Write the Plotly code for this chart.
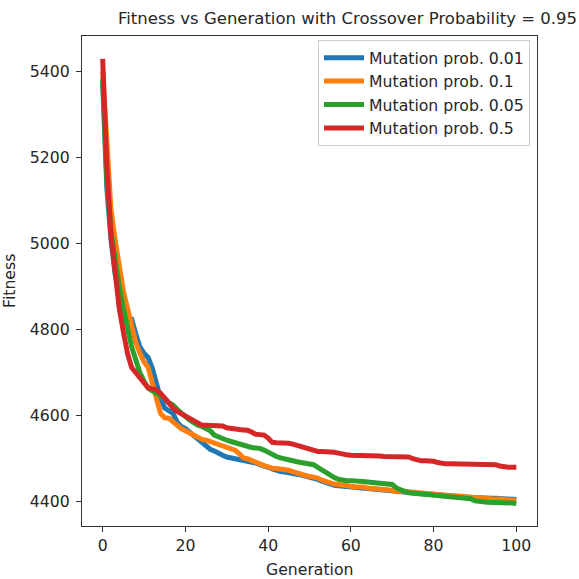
import plotly.graph_objects as go

generations = list(range(0, 101))

mut_001 = [5375, 5130, 5010, 4930, 4880, 4840, 4830, 4825, 4790, 4760,
           4745, 4735, 4710, 4675, 4640, 4618, 4610, 4605, 4585, 4575,
           4570, 4562, 4555, 4545, 4538, 4530, 4522, 4518, 4512, 4508,
           4504, 4502, 4500, 4500, 4497, 4496, 4492, 4490, 4486, 4484,
           4480, 4476, 4472, 4470, 4469, 4468, 4466, 4464, 4462, 4460,
           4457, 4455, 4452, 4448, 4444, 4440, 4438, 4437, 4436, 4436,
           4435, 4434, 4432, 4431, 4431, 4430, 4429, 4428, 4427, 4426,
           4425, 4424, 4423, 4422, 4421, 4420, 4420, 4419, 4418, 4418,
           4417, 4416, 4415, 4414, 4413, 4413, 4412, 4411, 4411, 4410,
           4410, 4409, 4409, 4408, 4408, 4408, 4407, 4407, 4406, 4406,
           4405]

mut_01 = [5400, 5220, 5080, 5010, 4950, 4890, 4850, 4810, 4770, 4745,
          4725, 4712, 4680, 4640, 4605, 4595, 4594, 4585, 4575, 4570,
          4565, 4560, 4552, 4548, 4545, 4543, 4540, 4538, 4535, 4532,
          4528, 4525, 4520, 4512, 4502, 4500, 4497, 4492, 4488, 4484,
          4480, 4478, 4477, 4476, 4474, 4473, 4470, 4466, 4463, 4461,
          4459, 4458, 4455, 4450, 4446, 4443, 4441, 4440, 4438, 4437,
          4436, 4435, 4435, 4434, 4432, 4431, 4430, 4429, 4428, 4427,
          4427, 4426, 4425, 4424, 4423, 4422, 4421, 4420, 4419, 4418,
          4418, 4417, 4416, 4415, 4414, 4413, 4413, 4412, 4411, 4410,
          4410, 4409, 4408, 4408, 4407, 4406, 4406, 4405, 4404, 4404,
          4403]

mut_005 = [5385, 5150, 5030, 4960, 4900, 4850, 4800, 4760, 4730, 4700,
           4680, 4664, 4658, 4653, 4648, 4640, 4630, 4625, 4615, 4605,
           4598, 4590, 4583, 4578, 4575, 4571, 4565, 4555, 4550, 4547,
           4543, 4540, 4537, 4533, 4530, 4528, 4526, 4525, 4524, 4520,
           4514, 4508, 4505, 4502, 4499, 4497, 4495, 4493, 4491, 4490,
           4489, 4486, 4480, 4474, 4467, 4460, 4456, 4452, 4450, 4449,
           4449, 4449, 4448, 4447, 4446, 4445, 4445, 4444, 4443, 4443,
           4440, 4432, 4427, 4424, 4421, 4420, 4419, 4418, 4417, 4416,
           4415, 4414, 4413, 4412, 4411, 4410, 4410, 4409, 4408, 4407,
           4402, 4400, 4400, 4399, 4399, 4399, 4398, 4398, 4397, 4397,
           4396]

mut_05 = [5430, 5180, 5020, 4920, 4850, 4795, 4745, 4712, 4700, 4690,
          4675, 4665, 4662, 4660, 4652, 4640, 4630, 4618, 4610, 4605,
          4598, 4592, 4588, 4582, 4578, 4578, 4577, 4577, 4576, 4576,
          4572, 4570, 4569, 4568, 4567, 4566, 4562, 4557, 4556, 4555,
          4548, 4538, 4537, 4537, 4536, 4536, 4534, 4531, 4527, 4523,
          4520, 4518, 4517, 4517, 4517, 4516, 4515, 4513, 4510, 4509,
          4508, 4508, 4507, 4507, 4506, 4506, 4506, 4506, 4505, 4505,
          4505, 4505, 4505, 4505, 4504, 4500, 4496, 4495, 4495, 4495,
          4494, 4491, 4489, 4488, 4488, 4488, 4488, 4487, 4487, 4487,
          4487, 4487, 4487, 4487, 4487, 4486, 4483, 4481, 4480, 4480,
          4480]

series_names = ["Mutation prob. 0.01", "Mutation prob. 0.1",
                "Mutation prob. 0.05", "Mutation prob. 0.5"]
series_values = [mut_001, mut_01, mut_005, mut_05]
series_colors = ["#1f77b4", "#ff7f0e", "#2ca02c", "#d62728"]

x_ticks = [0, 20, 40, 60, 80, 100]
y_ticks = [4400, 4600, 4800, 5000, 5200, 5400]

FONT = "DejaVu Sans"
TXT = "#262626"
FS = 15.7

fig = go.Figure()
for name, vals, col in zip(series_names, series_values, series_colors):
    fig.add_trace(go.Scatter(x=generations, y=vals, mode="lines", name=name,
                             line=dict(color=col, width=5)))

axis_common = dict(showgrid=False, zeroline=False, showline=True, mirror=True,
                   linecolor="#333333", linewidth=1.2, ticks="outside",
                   ticklen=5, tickwidth=1.2, tickcolor="#333333",
                   automargin=False,
                   tickfont=dict(family=FONT, size=FS, color=TXT))

L, R, T, B = 82, 537, 36, 526
W = H = 579

fig.update_layout(
    width=W, height=H,
    margin=dict(l=L, r=W - R, t=T, b=H - B),
    paper_bgcolor="white", plot_bgcolor="rgba(0,0,0,0)",
    font=dict(family=FONT, color=TXT),
    title=dict(text="Fitness vs Generation with Crossover Probability = 0.95",
               x=347.5 / W, xanchor="center", y=1 - 18 / H,
               yanchor="middle", font=dict(family=FONT, size=16.5, color=TXT)),
    xaxis=dict(range=[-5, 105], tickvals=x_ticks, **axis_common),
    yaxis=dict(range=[4343.5, 5483], tickvals=y_ticks, ticklabelstandoff=3,
               **axis_common),
    legend=dict(x=(530 - L) / (R - L), y=(B - 40) / (B - T),
                xanchor="right", yanchor="top", itemwidth=40,
                bgcolor="rgba(255,255,255,0.8)", bordercolor="#cccccc",
                borderwidth=1, font=dict(family=FONT, size=FS, color=TXT)),
    showlegend=True,
)

fig.add_annotation(text="Generation", xref="paper", yref="paper",
                   x=0.5, y=(B - 569) / (B - T), xanchor="center", yanchor="middle",
                   showarrow=False, font=dict(family=FONT, size=FS, color=TXT))
fig.add_annotation(text="Fitness", textangle=-90, xref="paper", yref="paper",
                   x=(9 - L) / (R - L), y=0.5, xanchor="center", yanchor="middle",
                   showarrow=False, font=dict(family=FONT, size=FS, color=TXT))

fig.write_html("out.html", config={"displayModeBar": False},
               post_script="document.body.style.margin='0';")
